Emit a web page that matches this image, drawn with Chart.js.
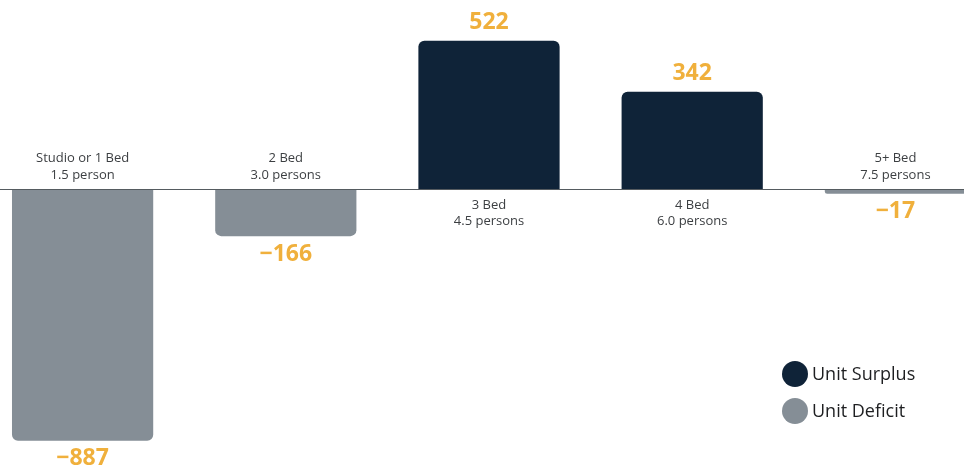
<!DOCTYPE html>
<html>
<head>
<meta charset="utf-8">
<script src="https://cdn.jsdelivr.net/npm/chart.js@4"></script>
<style>
  html, body { margin: 0; padding: 0; background: #ffffff; overflow: hidden; }
  #wrap { position: absolute; left: -19px; top: 0; width: 1016px; height: 467px; }
</style>
</head>
<body>
<div id="wrap"><canvas id="c"></canvas></div>
<script>
// Unit surplus / deficit by household size
const unitTypes = ['Studio or 1 Bed', '2 Bed', '3 Bed', '4 Bed', '5+ Bed'];
const occupancy = ['1.5 person', '3.0 persons', '4.5 persons', '6.0 persons', '7.5 persons'];
const surplus = [null, null, 522, 342, null];
const deficit = [-887, -166, null, null, -17];
const seriesNames = ['Unit Surplus', 'Unit Deficit'];

const SURPLUS_COLOR = '#0f2338';
const DEFICIT_COLOR = '#858e96';
const VALUE_COLOR = '#f0b03c';
const TEXT_FONT = '"Open Sans", "Noto Sans", sans-serif';

const annotate = {
  id: 'annotate',
  afterDatasetsDraw(chart) {
    const ctx = chart.ctx;
    const y = chart.scales.y;
    const zeroY = Math.round(y.getPixelForValue(0)) + 0.5;
    const area = chart.chartArea;

    // baseline
    ctx.save();
    ctx.strokeStyle = '#555b60';
    ctx.lineWidth = 1;
    ctx.beginPath();
    ctx.moveTo(area.left, zeroY);
    ctx.lineTo(area.right, zeroY);
    ctx.stroke();

    ctx.textAlign = 'center';
    ctx.textBaseline = 'middle';

    chart.data.datasets.forEach((ds, di) => {
      const meta = chart.getDatasetMeta(di);
      ds.data.forEach((v, i) => {
        if (v === null) return;
        const bar = meta.data[i];
        const cx = bar.x;
        // value label
        ctx.fillStyle = VALUE_COLOR;
        ctx.font = 'bold 23px ' + TEXT_FONT;
        const txt = v < 0 ? '\u2212' + Math.abs(v) : String(v);
        if (v >= 0) ctx.fillText(txt, cx, bar.y - 18);
        else ctx.fillText(txt, cx, bar.y + 18);
        // category label, on the opposite side of the baseline
        ctx.fillStyle = '#3c3f42';
        ctx.font = '13px ' + TEXT_FONT;
        if (v >= 0) {
          ctx.fillText(unitTypes[i], cx, zeroY + 16);
          ctx.fillText(occupancy[i], cx, zeroY + 32);
        } else {
          ctx.fillText(unitTypes[i], cx, zeroY - 31);
          ctx.fillText(occupancy[i], cx, zeroY - 14);
        }
      });
    });

    // legend
    const colors = [SURPLUS_COLOR, DEFICIT_COLOR];
    const lx = 814, ly = [374, 411];
    seriesNames.forEach((name, k) => {
      ctx.fillStyle = colors[k];
      ctx.beginPath();
      ctx.arc(lx, ly[k], 13, 0, Math.PI * 2);
      ctx.fill();
      ctx.fillStyle = '#1e1f21';
      ctx.font = '18px ' + TEXT_FONT;
      ctx.textAlign = 'left';
      ctx.fillText(name, lx + 17, ly[k] + 1);
    });
    ctx.restore();
  }
};

new Chart(document.getElementById('c'), {
  type: 'bar',
  data: {
    labels: unitTypes,
    datasets: [
      { label: seriesNames[0], data: surplus, backgroundColor: SURPLUS_COLOR, borderRadius: 6, borderSkipped: 'start' },
      { label: seriesNames[1], data: deficit, backgroundColor: DEFICIT_COLOR, borderRadius: 6, borderSkipped: 'start' }
    ]
  },
  options: {
    responsive: true,
    maintainAspectRatio: false,
    animation: false,
    layout: { padding: 0 },
    categoryPercentage: 0.695,
    barPercentage: 1.0,
    plugins: { legend: { display: false }, tooltip: { enabled: false } },
    scales: {
      x: { stacked: true, display: false, offset: true },
      y: { stacked: true, display: false, min: -979, max: 665.5 }
    }
  },
  plugins: [annotate]
});
</script>
</body>
</html>
